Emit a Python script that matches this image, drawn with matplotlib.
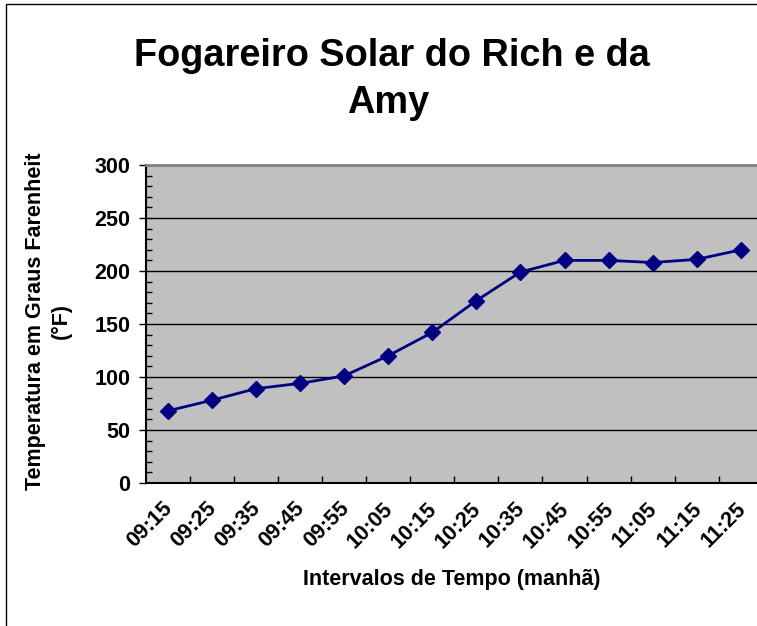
import matplotlib
matplotlib.use("Agg")
import matplotlib.pyplot as plt
from matplotlib.ticker import MultipleLocator, FixedLocator
from matplotlib.patches import Rectangle

plt.rcParams['font.family'] = ['Liberation Sans', 'DejaVu Sans']

times = ["09:15", "09:25", "09:35", "09:45", "09:55", "10:05", "10:15",
         "10:25", "10:35", "10:45", "10:55", "11:05", "11:15", "11:25"]
temps = [68, 78, 89, 94, 101, 120, 142, 172, 199, 210, 210, 208, 211, 220]

W, H = 757, 626
fig = plt.figure(figsize=(W / 100, H / 100), dpi=100)

# figure border (left and top visible)
fig.patches.append(Rectangle((6 / W, -0.1), 1.2, (1 - 4 / H) + 0.1, transform=fig.transFigure,
                             fill=False, edgecolor='black', linewidth=1.0))

left, right, top, bottom = 145.5, 763, 165, 483
ax = fig.add_axes([left / W, 1 - bottom / H, (right - left) / W, (bottom - top) / H])
ax.set_facecolor('#c0c0c0')

x = list(range(len(times)))
ax.plot(x, temps, color='#000080', linewidth=2, marker='D', markersize=8.5,
        markerfacecolor='#000080', markeredgecolor='#000080', zorder=3)

ax.set_xlim(-0.5, len(times) - 0.5)
ax.set_ylim(0, 300)
ax.yaxis.set_major_locator(MultipleLocator(50))
ax.yaxis.set_minor_locator(MultipleLocator(10))
ax.grid(axis='y', which='major', color='black', linewidth=1)
ax.set_axisbelow(True)

ax.xaxis.set_major_locator(FixedLocator(x))
ax.set_xticklabels(times, rotation=45, ha='right', va='center_baseline',
                   rotation_mode='anchor', fontsize=15.5, fontweight='bold')
ax.xaxis.set_minor_locator(FixedLocator([i + 0.5 for i in range(len(times))]))
ax.tick_params(axis='x', which='major', length=0, pad=15)
ax.tick_params(axis='x', which='minor', length=5, direction='in', width=1)
ax.tick_params(axis='y', which='major', length=5, direction='out', width=1,
               labelsize=15.5, pad=6)
ax.tick_params(axis='y', which='minor', length=4.5, direction='in', width=1)
for lbl in ax.get_yticklabels():
    lbl.set_fontweight('bold')

for s in ['top', 'right']:
    ax.spines[s].set_color('#808080')
    ax.spines[s].set_linewidth(2)
for s in ['left', 'bottom']:
    ax.spines[s].set_color('black')
    ax.spines[s].set_linewidth(1.5)

fig.text(452 / W, 1 - 579 / H, "Intervalos de Tempo (manhã)", ha='center', va='center',
         fontsize=15.5, fontweight='bold')
fig.text(48 / W, 1 - 321 / H, "Temperatura em Graus Farenheit\n(°F)", ha='center',
         va='center', rotation=90, fontsize=15.5, fontweight='bold', linespacing=1.3)

fig.text(392 / W, 1 - 65.5 / H, "Fogareiro Solar do Rich e da", ha='center', va='baseline',
         fontsize=27.3, fontweight='bold')
fig.text(388 / W, 1 - 113 / H, "Amy", ha='center', va='baseline',
         fontsize=27.3, fontweight='bold')

fig.savefig("out.png", dpi=100)
